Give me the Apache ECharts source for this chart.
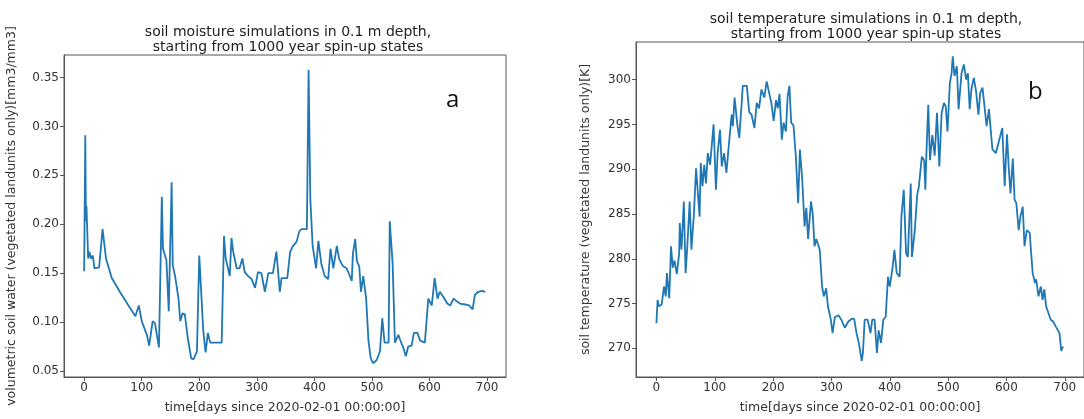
<!DOCTYPE html>
<html>
<head>
<meta charset="utf-8">
<script src="https://cdn.jsdelivr.net/npm/echarts@6/dist/echarts.min.js"></script>
<style>
  body { margin: 0; background: #ffffff; }
  #chart { width: 1084px; height: 419px; }
</style>
</head>
<body>
<div id="chart"></div>
<script>
// soil moisture (panel a): day, value
const moistDays = [0,2,3,4,7,9,12,15,18,26,32,35,38,48,62,77,89,95,100,109,113,119,123,130,135,137,140,143,147,152,154,158,164,167,171,175,180,186,190,196,200,207,211,215,219,239,243,246,253,256,259,265,270,275,279,285,291,297,302,308,314,320,328,334,340,343,353,358,363,369,374,378,387,390,393,397,403,407,412,418,424,428,433,439,443,447,450,456,459,465,467,471,474,478,481,485,490,494,498,502,508,514,518,522,529,531,534,536,540,546,549,555,559,563,569,573,579,584,592,598,604,609,614,618,624,631,636,642,648,653,662,669,675,679,685,691,697];
const moistValues = [0.152,0.291,0.203,0.219,0.165,0.172,0.165,0.168,0.155,0.156,0.195,0.180,0.165,0.145,0.131,0.117,0.106,0.117,0.101,0.087,0.076,0.101,0.099,0.074,0.228,0.175,0.175,0.163,0.111,0.243,0.158,0.147,0.124,0.101,0.109,0.108,0.084,0.063,0.062,0.070,0.168,0.091,0.069,0.089,0.079,0.079,0.188,0.165,0.147,0.186,0.172,0.155,0.155,0.165,0.151,0.147,0.144,0.135,0.151,0.150,0.131,0.150,0.150,0.172,0.131,0.145,0.145,0.172,0.178,0.182,0.193,0.195,0.195,0.358,0.226,0.178,0.155,0.183,0.160,0.147,0.144,0.175,0.155,0.178,0.165,0.160,0.157,0.155,0.151,0.142,0.170,0.185,0.162,0.157,0.131,0.147,0.124,0.081,0.063,0.058,0.061,0.070,0.104,0.079,0.079,0.203,0.203,0.160,0.079,0.087,0.082,0.073,0.065,0.075,0.076,0.089,0.089,0.081,0.079,0.124,0.117,0.145,0.124,0.131,0.126,0.119,0.117,0.124,0.121,0.119,0.118,0.117,0.113,0.128,0.131,0.132,0.131];

// soil temperature (panel b): day, value
const tempDays = [0,2,4,9,13,16,18,21,22,25,28,31,35,39,40,43,47,50,53,57,60,64,68,71,74,76,79,82,85,88,92,98,102,105,109,112,116,120,124,129,131,134,139,142,146,148,155,159,163,168,172,176,180,185,189,193,197,201,205,208,211,215,218,222,225,228,231,235,239,243,246,250,254,257,260,265,268,271,274,280,284,287,291,294,299,302,306,312,317,323,329,335,339,343,347,352,354,357,362,367,370,374,378,381,385,389,393,397,400,405,408,412,417,420,424,428,431,436,438,443,447,450,455,459,461,463,466,469,473,477,481,485,489,493,496,499,503,506,508,511,515,518,523,527,531,534,537,540,544,548,552,555,559,561,566,570,576,582,587,593,597,601,604,607,611,614,617,621,624,628,631,635,640,642,645,649,651,655,659,662,665,668,676,680,685,688,691,694,697];
const tempValues = [272.8,275.4,274.7,274.9,276.9,275.8,278.4,278.4,275.6,281.4,279.0,279.8,278.3,280.6,284.0,281.0,286.4,278.4,281.4,286.4,281.0,284.7,290.1,290.1,284.7,290.7,288.1,290.5,288.4,291.8,290.5,295.0,287.7,291.8,294.4,290.3,291.8,289.6,292.6,296.1,294.8,298.0,294.8,293.5,297.2,299.3,299.3,296.4,296.1,294.6,297.4,296.8,298.9,298.0,299.8,298.6,297.4,295.4,297.7,296.8,298.4,293.3,295.2,294.2,298.2,299.3,295.2,294.9,291.4,286.2,292.2,288.8,283.6,285.7,282.2,286.4,285.0,281.4,282.2,281.0,276.9,275.8,276.7,274.7,273.2,271.7,273.5,273.7,273.2,272.3,273.0,273.3,273.3,271.7,270.6,268.6,269.5,273.2,273.2,271.7,273.2,273.2,269.5,272.0,270.6,273.2,273.5,278.0,276.9,279.1,281.0,278.4,278.0,284.7,287.7,280.6,280.2,288.4,280.2,283.2,287.1,288.1,291.4,291.0,287.7,292.0,297.2,291.0,293.8,291.5,296.3,290.3,296.3,297.4,297.0,294.2,299.6,300.7,302.6,300.4,301.5,296.7,300.7,301.7,300.0,300.7,296.7,298.9,300.2,298.7,296.1,298.5,299.1,299.3,294.8,296.7,292.2,291.8,293.1,294.6,288.1,293.9,290.1,287.3,291.2,286.6,286.2,283.2,284.7,285.8,281.4,283.2,282.9,281.0,278.4,277.3,277.7,275.8,276.9,275.4,276.6,274.7,273.2,273.0,272.4,272.6,271.7,269.7,270.2];

// tick labels
const dayTicks = [0, 100, 200, 300, 400, 500, 600, 700];
const moistTicks = [0.05, 0.10, 0.15, 0.20, 0.25, 0.30, 0.35];
const tempTicks = [270, 275, 280, 285, 290, 295, 300];

const font = 'DejaVu Sans';
const ink = '#333333';
const frame = '#555555';

function xAxisFor(gridIndex) {
    return {
        type: 'value', gridIndex: gridIndex, min: -35, max: 733,
        name: 'time[days since 2020-02-01 00:00:00]',
        nameLocation: 'middle', nameGap: 24,
        nameTextStyle: { fontFamily: font, fontSize: 12.5, color: ink },
        axisLine: { show: true, onZero: false, lineStyle: { color: frame } },
        axisTick: { show: true, length: 4, customValues: dayTicks, lineStyle: { color: frame } },
        axisLabel: { customValues: dayTicks, fontFamily: font, fontSize: 12, color: ink, margin: 5 },
        splitLine: { show: false }
    };
}

function yAxisFor(gridIndex, name, min, max, ticks, fmt, gap) {
    return {
        type: 'value', gridIndex: gridIndex, min: min, max: max,
        name: name, nameLocation: 'middle', nameGap: gap, nameRotate: 90,
        nameTextStyle: { fontFamily: font, fontSize: 12.5, color: ink },
        axisLine: { show: true, onZero: false, lineStyle: { color: frame } },
        axisTick: { show: true, length: 4, customValues: ticks, lineStyle: { color: frame } },
        axisLabel: { customValues: ticks, formatter: fmt, fontFamily: font, fontSize: 12, color: ink, margin: 5 },
        splitLine: { show: false }
    };
}

let myChart = echarts.init(document.getElementById('chart'));
myChart.setOption({
    animation: false,
    backgroundColor: '#ffffff',
    title: [
        {
            text: 'soil moisture simulations in 0.1 m depth,\nstarting from 1000 year spin-up states',
            left: 283, top: 20, textAlign: 'center',
            textStyle: { fontFamily: font, fontSize: 14, fontWeight: 'normal', color: '#222', lineHeight: 15 }
        },
        {
            text: 'soil temperature simulations in 0.1 m depth,\nstarting from 1000 year spin-up states',
            left: 861, top: 7, textAlign: 'center',
            textStyle: { fontFamily: font, fontSize: 14, fontWeight: 'normal', color: '#222', lineHeight: 15 }
        }
    ],
    grid: [
        { left: 64, top: 55, width: 442, height: 324, show: true, borderColor: frame, borderWidth: 1 },
        { left: 636, top: 42, width: 455, height: 336, show: true, borderColor: frame, borderWidth: 1 }
    ],
    xAxis: [xAxisFor(0), xAxisFor(1)],
    yAxis: [
        yAxisFor(0, 'volumetric soil water (vegetated landunits only)[mm3/mm3]', 0.0439, 0.373, moistTicks, v => v.toFixed(2), 46),
        yAxisFor(1, 'soil temperature (vegetated landunits only)[K]', 266.8, 304.2, tempTicks, v => String(v), 44)
    ],
    series: [
        {
            type: 'line', xAxisIndex: 0, yAxisIndex: 0, showSymbol: false,
            lineStyle: { color: '#1f77b4', width: 1.8 },
            data: moistDays.map((d, i) => [d, moistValues[i]])
        },
        {
            type: 'line', xAxisIndex: 1, yAxisIndex: 1, showSymbol: false,
            lineStyle: { color: '#1f77b4', width: 1.8 },
            data: tempDays.map((d, i) => [d, tempValues[i]])
        }
    ],
    graphic: [
        { type: 'text', left: 446, top: 88, style: { text: 'a', font: '24px "Open Sans"', fill: '#111' } },
        { type: 'text', left: 1028, top: 80, style: { text: 'b', font: '24px "Open Sans"', fill: '#111' } }
    ]
});
</script>
</body>
</html>
